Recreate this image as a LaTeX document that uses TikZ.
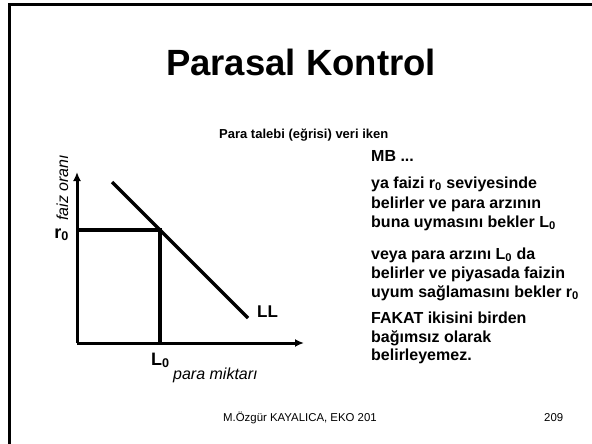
\documentclass[tikz,border=0pt]{standalone}
\usepackage{fontspec}
\setmainfont{Liberation Sans}
\usetikzlibrary{arrows.meta}
\tikzset{
  txt/.style={anchor=base west, inner sep=0pt, font=\bfseries\fontsize{16}{19}\selectfont},
  axis/.style={line width=3pt, -{Latex[length=9pt,width=8pt]}},
  curve/.style={line width=3.4pt}
}
\begin{document}
\begin{tikzpicture}[x=1pt, y=-1pt]
\useasboundingbox (0,0) rectangle (592,444);
% slide frame
\draw[line width=3pt] (9,446) -- (9,5) -- (594,5);
\node[anchor=base, inner sep=0pt, font=\bfseries\fontsize{36.5}{40}\selectfont] (title) at (301,76) {Parasal Kontrol};
\node[anchor=base west, inner sep=0pt, font=\bfseries\fontsize{13}{16}\selectfont] (head) at (219,139) {Para talebi (eğrisi) veri iken};
% text block
\foreach \yy/\t [count=\i] in {161/{MB ...},
    188/{ya faizi r\textsubscript{0} seviyesinde}, 208/{belirler ve para arzının}, 227/{buna uymasını bekler L\textsubscript{0}},
    259/{veya para arzını L\textsubscript{0} da}, 278/{belirler ve piyasada faizin}, 297/{uyum sağlamasını bekler r\textsubscript{0}},
    323/{FAKAT ikisini birden}, 342/{bağımsız olarak}, 360/{belirleyemez.}}
  \node[txt] (line\i) at (371,\yy) {\t};
% graph
\coordinate (O) at (77,343);
\coordinate (ytip) at (77,172);
\coordinate (xtip) at (304,343);
\coordinate (E) at (160,230);
\coordinate (yr) at (77,230);
\coordinate (xl) at (160,343);
\draw[axis] (O) -- (ytip);
\draw[axis] (O) -- (xtip);
\draw[curve] (yr) -- (E) -- (xl);
\draw[curve] (112,182) coordinate (LLa) -- (248,318) coordinate (LLb);
\node[anchor=base west, inner sep=0pt, font=\bfseries\fontsize{17}{20}\selectfont] (LL) at (257,317) {LL};
\node[anchor=base east, inner sep=0pt, font=\bfseries\fontsize{18}{20}\selectfont] (r0) at (69,238) {r\textsubscript{0}};
\node[anchor=base west, inner sep=0pt, font=\bfseries\fontsize{18}{20}\selectfont] (L0) at (151,365) {L\textsubscript{0}};
\node[anchor=base west, inner sep=0pt, font=\itshape\fontsize{16}{19}\selectfont] (xlab) at (173,379) {para miktarı};
\node[anchor=base west, inner sep=0pt, rotate=90, font=\itshape\fontsize{16}{19}\selectfont] (ylab) at (68,221) {faiz oranı};
% footer
\node[anchor=base west, inner sep=0pt, font=\fontsize{11.4}{14}\selectfont] (foot) at (223,421) {M.Özgür KAYALICA, EKO 201};
\node[anchor=base west, inner sep=0pt, font=\fontsize{11.4}{14}\selectfont] (page) at (544,421) {209};
\end{tikzpicture}
\end{document}
